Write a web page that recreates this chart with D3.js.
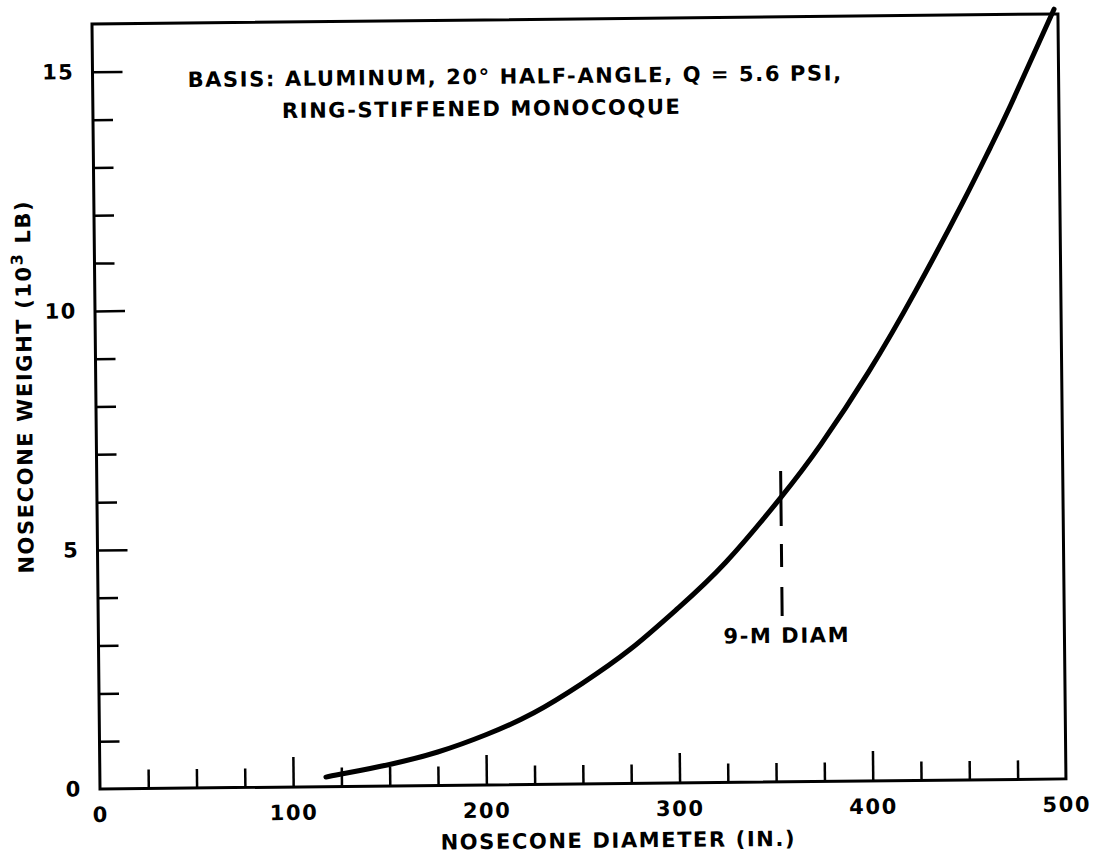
<!DOCTYPE html>
<html>
<head>
<meta charset="utf-8">
<script src="https://cdn.jsdelivr.net/npm/d3@7"></script>
<style>
  html, body { margin: 0; padding: 0; background: #fff; }
  svg { display: block; }
  text { font-family: "DejaVu Sans", sans-serif; font-weight: bold; fill: #000; letter-spacing: 1.6px; }
</style>
</head>
<body>
<svg id="chart" width="1094" height="855"></svg>
<script>
// ---- data ----
const diameters = [117, 125, 150, 175, 200, 225, 250, 275, 300, 325, 354, 375, 400, 425, 450, 464, 475, 498];
const weights   = [0.2, 0.26, 0.45, 0.7, 1.05, 1.5, 2.1, 2.8, 3.65, 4.6, 5.95, 7.05, 8.55, 10.25, 12.1, 13.2, 14.1, 16.1];
const xTickLabels = [0, 100, 200, 300, 400, 500];
const xMajorTicks = [100, 200, 300, 400];
const xMinorTicks = [25, 50, 75, 125, 150, 175, 225, 250, 275, 325, 350, 375, 425, 450, 475];
const yTickLabels = [0, 5, 10, 15];
const yMajorTicks = [5, 10, 15];
const yMinorTicks = [1, 2, 3, 4, 6, 7, 8, 9, 11, 12, 13, 14];
const markerDiameter = 354;       // 9 m in inches
const markerRange = [6.5, 3.45];  // vertical extent of the marker (10^3 lb)
const basisLines = ["BASIS: ALUMINUM, 20\u00B0 HALF-ANGLE, Q = 5.6 PSI,", "RING-STIFFENED MONOCOQUE"];

// ---- layout ----
const svg = d3.select("#chart");
const g = svg.append("g").attr("transform", "rotate(-0.6, 100, 789)");

const x = d3.scaleLinear().domain([0, 500]).range([100, 1066]);
const y = d3.scaleLinear().domain([0, 16]).range([789, 24]);

// frame
g.append("rect")
  .attr("x", x(0)).attr("y", y(16))
  .attr("width", x(500) - x(0)).attr("height", y(0) - y(16))
  .attr("fill", "none").attr("stroke", "#000").attr("stroke-width", 3);

function styleAxis(sel, w) {
  sel.select(".domain").remove();
  sel.selectAll(".tick line").attr("stroke", "#000").attr("stroke-width", w);
}

// x axis: minor ticks, major ticks, labels
g.append("g").attr("transform", `translate(0,${y(0)})`)
  .call(d3.axisBottom(x).tickValues(xMinorTicks).tickSize(-19).tickFormat(""))
  .call(s => styleAxis(s, 2.5));
g.append("g").attr("transform", `translate(0,${y(0)})`)
  .call(d3.axisBottom(x).tickValues(xMajorTicks).tickSize(-30).tickFormat(""))
  .call(s => styleAxis(s, 2.5));
const xl = g.append("g").attr("transform", `translate(0,${y(0)})`)
  .call(d3.axisBottom(x).tickValues(xTickLabels).tickSize(0).tickPadding(18).tickFormat(d3.format("d")));
xl.select(".domain").remove();
xl.selectAll("text").attr("font-size", 21).attr("font-family", "DejaVu Sans").attr("font-weight", "bold");

// y axis
g.append("g").attr("transform", `translate(${x(0)},0)`)
  .call(d3.axisLeft(y).tickValues(yMinorTicks).tickSize(-20).tickFormat(""))
  .call(s => styleAxis(s, 2.5));
g.append("g").attr("transform", `translate(${x(0)},0)`)
  .call(d3.axisLeft(y).tickValues(yMajorTicks).tickSize(-30).tickFormat(""))
  .call(s => styleAxis(s, 2.5));
const yl = g.append("g").attr("transform", `translate(${x(0)},0)`)
  .call(d3.axisLeft(y).tickValues(yTickLabels).tickSize(0).tickPadding(18).tickFormat(d3.format("d")));
yl.select(".domain").remove();
yl.selectAll("text").attr("font-size", 21).attr("font-family", "DejaVu Sans").attr("font-weight", "bold");

// curve
const pts = diameters.map((d, i) => [d, weights[i]]);
g.append("path")
  .datum(pts)
  .attr("fill", "none").attr("stroke", "#000").attr("stroke-width", 5)
  .attr("stroke-linecap", "round")
  .attr("d", d3.line().x(d => x(d[0])).y(d => y(d[1])).curve(d3.curveNatural));

// 9-M marker
g.append("line")
  .attr("x1", x(markerDiameter)).attr("x2", x(markerDiameter))
  .attr("y1", y(markerRange[0])).attr("y2", y(markerRange[1]))
  .attr("stroke", "#000").attr("stroke-width", 3)
  .attr("stroke-dasharray", "55 18 23 20 29");
g.append("text")
  .attr("x", x(markerDiameter) - 59).attr("y", 650)
  .attr("font-size", 21)
  .text("9-M DIAM");

// basis note
g.append("text").attr("x", 195).attr("y", 88).attr("font-size", 21).text(basisLines[0]);
g.append("text").attr("x", 289).attr("y", 120).attr("font-size", 21).text(basisLines[1]);

// axis titles
g.append("text")
  .attr("x", 440).attr("y", 853)
  .attr("font-size", 21)
  .text("NOSECONE DIAMETER (IN.)");
const yt = g.append("text")
  .attr("transform", "translate(36,386) rotate(-90)")
  .attr("text-anchor", "middle")
  .attr("font-size", 21);
yt.append("tspan").text("NOSECONE WEIGHT (10");
yt.append("tspan").attr("dy", -8).attr("font-size", 16).text("3");
yt.append("tspan").attr("dy", 8).text(" LB)");
</script>
</body>
</html>
